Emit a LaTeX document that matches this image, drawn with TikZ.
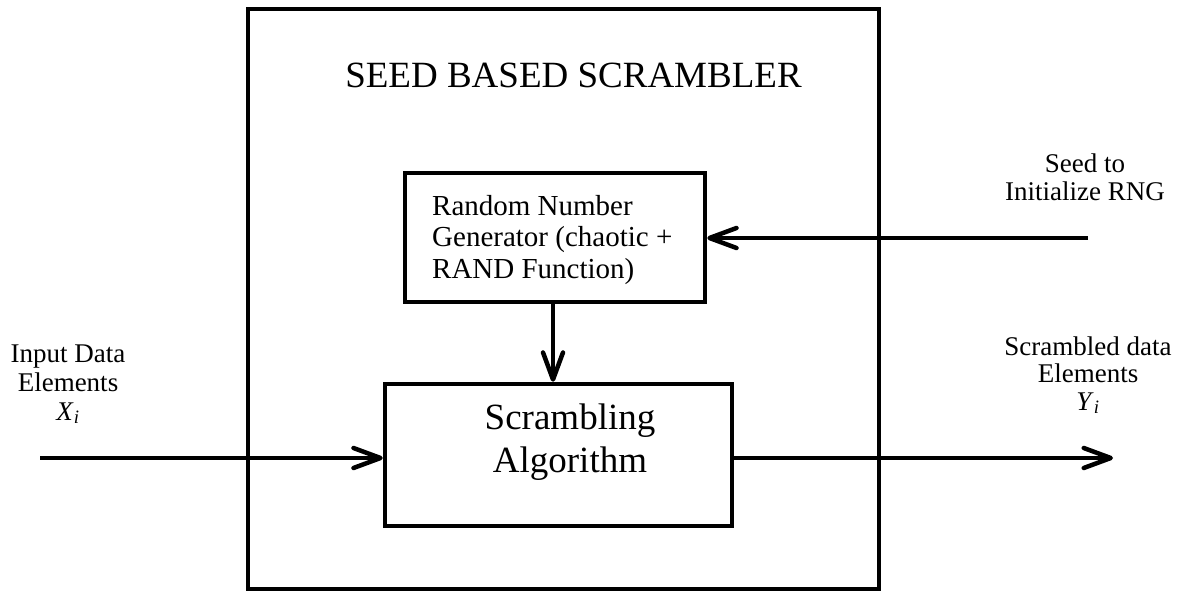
\documentclass[tikz,border=0pt]{standalone}
\usepackage{fontspec}
\setmainfont{Liberation Serif}
\usetikzlibrary{arrows.meta}
\newcommand\fsz[2]{\fontsize{#1}{#2}\selectfont}
\begin{document}
\begin{tikzpicture}[x=1pt,y=-1pt,
  boxline/.style={draw,line width=4.5pt,inner sep=0pt,line join=miter},
  flow/.style={line width=4.5pt,-{Straight Barb[length=27pt,width=20pt,round]}},
  lbl/.style={align=center,anchor=base,inner sep=0pt,font=\fsz{27}{28}}]
\useasboundingbox (0,0) rectangle (1180,591);
\node[boxline,minimum width=631pt,minimum height=580pt] (outer) at (563.5,299) {};
\node[anchor=base,inner sep=0pt,font=\fsz{37}{40}] (title) at (573.5,88) {SEED BASED SCRAMBLER};
\node[boxline,minimum width=300pt,minimum height=129pt] (rng) at (555,237.5) {};
\node[anchor=base west,align=left,inner sep=0pt,font=\fsz{29}{31.5}] (rngtxt) at (432,278)
  {Random Number\\Generator (chaotic +\\RAND Function)};
\node[boxline,minimum width=347pt,minimum height=142pt] (scr) at (558.5,455) {};
\node[anchor=base,align=center,inner sep=0pt,font=\fsz{37}{43}] (scrtxt) at (570,472)
  {Scrambling\\Algorithm};
\node[lbl] (seedlbl) at (1085,200) {Seed to\\Initialize RNG};
\node[lbl,font=\fsz{27}{29}] (inlbl) at (68,420) {Input Data\\Elements\\\textit{X}\textsubscript{\textit{i}}};
\node[lbl,font=\fsz{27}{27.5}] (outlbl) at (1088,410) {Scrambled data\\Elements\\\textit{Y}\textsubscript{\textit{i}}};
\coordinate (seedstart) at (1088,238);
\coordinate (instart) at (40,458);
\coordinate (outend) at (1113,458);
\draw[flow] (seedstart) -- (seedstart -| rng.east);
\draw[flow] (rng.south -| 553,0) -- (scr.north -| 553,0);
\draw[flow] (instart) -- (instart -| scr.west);
\draw[flow] (outend -| scr.east) -- (outend);
\end{tikzpicture}
\end{document}
